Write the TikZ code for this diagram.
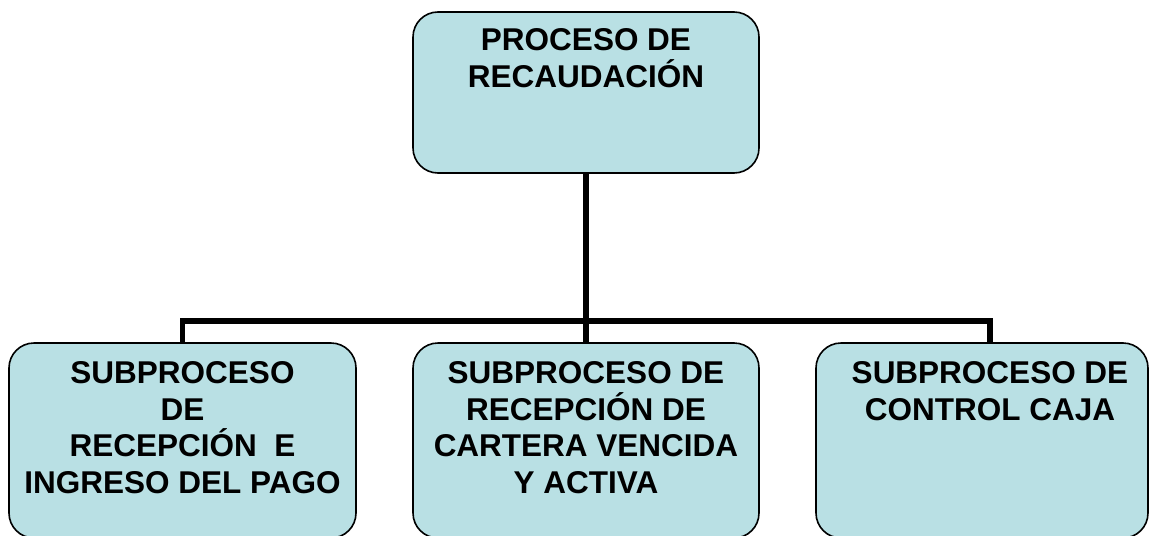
\documentclass[tikz,border=0pt]{standalone}
\usepackage{fontspec}
\setmainfont{Liberation Sans}
\usetikzlibrary{backgrounds}
\definecolor{boxfill}{RGB}{185,224,228}
\tikzset{
  procbox/.style={draw=black, line width=1.6pt, fill=boxfill, rounded corners=25pt, inner sep=0pt},
  proctext/.style={anchor=north, align=center, inner sep=0pt, font=\bfseries\fontsize{31.5}{36.8}\selectfont},
  conn/.style={draw=black, line width=5.5pt}
}
\begin{document}
\begin{tikzpicture}[x=1pt,y=-1pt]
\useasboundingbox (0,0) rectangle (1150,535);
\clip (0,0) rectangle (1150,535);
\node[procbox, minimum width=346pt, minimum height=161pt] (top) at (586,92.5) {};
\node[procbox, minimum width=347pt, minimum height=195pt] (b1) at (182.5,440.5) {};
\node[procbox, minimum width=346pt, minimum height=195pt] (b2) at (586,440.5) {};
\node[procbox, minimum width=332pt, minimum height=195pt] (b3) at (982,440.5) {};
\node[proctext] (t0) at (586,28.5) {PROCESO DE\\RECAUDACIÓN};
\node[proctext] (t1) at (182.5,361) {SUBPROCESO\\DE\\RECEPCIÓN\ \ E\\INGRESO DEL PAGO};
\node[proctext] (t2) at (586,361) {SUBPROCESO DE\\RECEPCIÓN DE\\CARTERA VENCIDA\\Y ACTIVA};
\node[proctext] (t3) at (990,361) {SUBPROCESO DE\\CONTROL CAJA};
\coordinate (j) at (586,321);
\coordinate (s3) at (990,343);
\begin{pgfonlayer}{background}
\draw[conn] (top.south) -- (b2.north);
\draw[conn] (b1.north) |- (j);
\draw[conn] (s3) |- (j);
\end{pgfonlayer}
\end{tikzpicture}
\end{document}
